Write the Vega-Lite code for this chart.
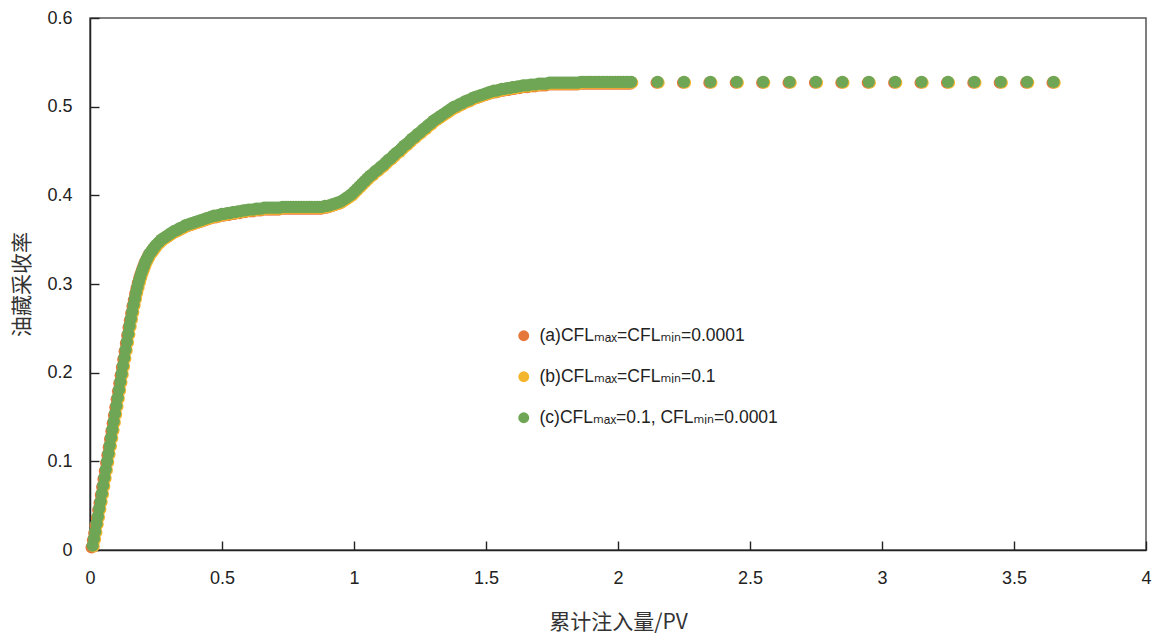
{
"$schema": "https://vega.github.io/schema/vega-lite/v6.json",
"width": 1056, "height": 532,
"autosize": {"type": "none"},
"padding": {"left": 90, "top": 18, "right": 7, "bottom": 83},
"config": {
 "font": "Liberation Sans, DejaVu Sans, Noto Sans CJK SC",
 "view": {"stroke": "#555", "strokeWidth": 1.5},
 "axis": {"grid": false, "tickColor": "#222", "tickWidth": 1.4, "domainColor": "#222", "domainWidth": 1.5, "labelFontSize": 18, "labelColor": "#222", "titleFontSize": 21, "titleColor": "#333", "titleFontWeight": "normal", "titleFont": "Noto Sans CJK SC", "labelFont": "Liberation Sans", "labelFlush": false},
 "legend": {"labelFontSize": 17.5, "labelColor": "#222", "labelFont": "Liberation Sans, DejaVu Sans", "labelLimit": 500, "symbolType": "circle", "symbolSize": 120, "symbolStrokeWidth": 0, "rowPadding": 22, "padding": 0, "labelOffset": 7}
},
"data": {"values": [
{"x":0.010,"a":0.003,"b":0.004,"c":0.005},
{"x":0.015,"a":0.011,"b":0.012,"c":0.013},
{"x":0.020,"a":0.019,"b":0.020,"c":0.021},
{"x":0.025,"a":0.028,"b":0.029,"c":0.030},
{"x":0.030,"a":0.036,"b":0.037,"c":0.038},
{"x":0.035,"a":0.045,"b":0.046,"c":0.047},
{"x":0.040,"a":0.053,"b":0.054,"c":0.055},
{"x":0.045,"a":0.062,"b":0.063,"c":0.064},
{"x":0.050,"a":0.071,"b":0.072,"c":0.073},
{"x":0.055,"a":0.080,"b":0.081,"c":0.082},
{"x":0.060,"a":0.089,"b":0.090,"c":0.091},
{"x":0.065,"a":0.098,"b":0.099,"c":0.100},
{"x":0.070,"a":0.107,"b":0.108,"c":0.109},
{"x":0.075,"a":0.116,"b":0.117,"c":0.118},
{"x":0.080,"a":0.125,"b":0.126,"c":0.127},
{"x":0.085,"a":0.134,"b":0.135,"c":0.136},
{"x":0.090,"a":0.143,"b":0.144,"c":0.145},
{"x":0.095,"a":0.152,"b":0.153,"c":0.154},
{"x":0.100,"a":0.161,"b":0.162,"c":0.163},
{"x":0.105,"a":0.170,"b":0.171,"c":0.172},
{"x":0.110,"a":0.179,"b":0.180,"c":0.181},
{"x":0.115,"a":0.188,"b":0.189,"c":0.190},
{"x":0.120,"a":0.197,"b":0.198,"c":0.199},
{"x":0.125,"a":0.206,"b":0.207,"c":0.208},
{"x":0.130,"a":0.215,"b":0.216,"c":0.217},
{"x":0.135,"a":0.224,"b":0.225,"c":0.226},
{"x":0.140,"a":0.233,"b":0.234,"c":0.235},
{"x":0.145,"a":0.242,"b":0.243,"c":0.244},
{"x":0.150,"a":0.251,"b":0.252,"c":0.253},
{"x":0.155,"a":0.259,"b":0.260,"c":0.261},
{"x":0.160,"a":0.267,"b":0.268,"c":0.269},
{"x":0.165,"a":0.275,"b":0.276,"c":0.277},
{"x":0.170,"a":0.282,"b":0.283,"c":0.284},
{"x":0.175,"a":0.289,"b":0.290,"c":0.291},
{"x":0.180,"a":0.295,"b":0.296,"c":0.297},
{"x":0.185,"a":0.301,"b":0.302,"c":0.303},
{"x":0.190,"a":0.306,"b":0.307,"c":0.308},
{"x":0.195,"a":0.311,"b":0.312,"c":0.313},
{"x":0.200,"a":0.315,"b":0.316,"c":0.317},
{"x":0.205,"a":0.319,"b":0.320,"c":0.321},
{"x":0.210,"a":0.323,"b":0.324,"c":0.325},
{"x":0.215,"a":0.326,"b":0.327,"c":0.328},
{"x":0.220,"a":0.329,"b":0.330,"c":0.331},
{"x":0.225,"a":0.332,"b":0.333,"c":0.334},
{"x":0.230,"a":0.334,"b":0.335,"c":0.336},
{"x":0.235,"a":0.336,"b":0.337,"c":0.338},
{"x":0.240,"a":0.338,"b":0.339,"c":0.340},
{"x":0.245,"a":0.340,"b":0.341,"c":0.342},
{"x":0.250,"a":0.342,"b":0.343,"c":0.344},
{"x":0.26,"a":0.345,"b":0.346,"c":0.347},
{"x":0.27,"a":0.348,"b":0.349,"c":0.350},
{"x":0.28,"a":0.350,"b":0.351,"c":0.352},
{"x":0.29,"a":0.352,"b":0.353,"c":0.354},
{"x":0.30,"a":0.354,"b":0.355,"c":0.356},
{"x":0.31,"a":0.356,"b":0.357,"c":0.358},
{"x":0.32,"a":0.358,"b":0.359,"c":0.360},
{"x":0.33,"a":0.359,"b":0.360,"c":0.361},
{"x":0.34,"a":0.361,"b":0.362,"c":0.363},
{"x":0.35,"a":0.362,"b":0.363,"c":0.364},
{"x":0.36,"a":0.364,"b":0.365,"c":0.366},
{"x":0.37,"a":0.365,"b":0.366,"c":0.367},
{"x":0.38,"a":0.366,"b":0.367,"c":0.368},
{"x":0.39,"a":0.367,"b":0.368,"c":0.369},
{"x":0.40,"a":0.368,"b":0.369,"c":0.370},
{"x":0.41,"a":0.369,"b":0.370,"c":0.371},
{"x":0.42,"a":0.370,"b":0.371,"c":0.372},
{"x":0.43,"a":0.371,"b":0.372,"c":0.373},
{"x":0.44,"a":0.372,"b":0.373,"c":0.374},
{"x":0.45,"a":0.373,"b":0.374,"c":0.375},
{"x":0.46,"a":0.374,"b":0.375,"c":0.376},
{"x":0.47,"a":0.375,"b":0.376,"c":0.377},
{"x":0.48,"a":0.375,"b":0.376,"c":0.377},
{"x":0.49,"a":0.376,"b":0.377,"c":0.378},
{"x":0.50,"a":0.377,"b":0.378,"c":0.379},
{"x":0.51,"a":0.377,"b":0.378,"c":0.379},
{"x":0.52,"a":0.378,"b":0.379,"c":0.380},
{"x":0.53,"a":0.378,"b":0.379,"c":0.380},
{"x":0.54,"a":0.379,"b":0.380,"c":0.381},
{"x":0.55,"a":0.379,"b":0.380,"c":0.381},
{"x":0.56,"a":0.380,"b":0.381,"c":0.382},
{"x":0.57,"a":0.380,"b":0.381,"c":0.382},
{"x":0.58,"a":0.381,"b":0.382,"c":0.383},
{"x":0.59,"a":0.381,"b":0.382,"c":0.383},
{"x":0.60,"a":0.382,"b":0.383,"c":0.384},
{"x":0.61,"a":0.382,"b":0.383,"c":0.384},
{"x":0.62,"a":0.382,"b":0.383,"c":0.384},
{"x":0.63,"a":0.383,"b":0.384,"c":0.385},
{"x":0.64,"a":0.383,"b":0.384,"c":0.385},
{"x":0.65,"a":0.383,"b":0.384,"c":0.385},
{"x":0.66,"a":0.384,"b":0.385,"c":0.386},
{"x":0.67,"a":0.384,"b":0.385,"c":0.386},
{"x":0.68,"a":0.384,"b":0.385,"c":0.386},
{"x":0.69,"a":0.384,"b":0.385,"c":0.386},
{"x":0.70,"a":0.384,"b":0.385,"c":0.386},
{"x":0.71,"a":0.384,"b":0.385,"c":0.386},
{"x":0.72,"a":0.384,"b":0.385,"c":0.386},
{"x":0.73,"a":0.385,"b":0.386,"c":0.387},
{"x":0.74,"a":0.385,"b":0.386,"c":0.387},
{"x":0.75,"a":0.385,"b":0.386,"c":0.387},
{"x":0.76,"a":0.385,"b":0.386,"c":0.387},
{"x":0.77,"a":0.385,"b":0.386,"c":0.387},
{"x":0.78,"a":0.385,"b":0.386,"c":0.387},
{"x":0.79,"a":0.385,"b":0.386,"c":0.387},
{"x":0.80,"a":0.385,"b":0.386,"c":0.387},
{"x":0.81,"a":0.385,"b":0.386,"c":0.387},
{"x":0.82,"a":0.385,"b":0.386,"c":0.387},
{"x":0.83,"a":0.385,"b":0.386,"c":0.387},
{"x":0.84,"a":0.385,"b":0.386,"c":0.387},
{"x":0.85,"a":0.385,"b":0.386,"c":0.387},
{"x":0.86,"a":0.385,"b":0.386,"c":0.387},
{"x":0.87,"a":0.385,"b":0.386,"c":0.387},
{"x":0.88,"a":0.385,"b":0.386,"c":0.387},
{"x":0.89,"a":0.386,"b":0.387,"c":0.388},
{"x":0.90,"a":0.386,"b":0.387,"c":0.388},
{"x":0.91,"a":0.387,"b":0.388,"c":0.389},
{"x":0.92,"a":0.388,"b":0.389,"c":0.390},
{"x":0.93,"a":0.389,"b":0.390,"c":0.391},
{"x":0.94,"a":0.390,"b":0.391,"c":0.392},
{"x":0.95,"a":0.391,"b":0.392,"c":0.393},
{"x":0.96,"a":0.393,"b":0.394,"c":0.395},
{"x":0.97,"a":0.395,"b":0.396,"c":0.397},
{"x":0.98,"a":0.397,"b":0.398,"c":0.399},
{"x":0.99,"a":0.399,"b":0.400,"c":0.401},
{"x":1.00,"a":0.402,"b":0.403,"c":0.404},
{"x":1.01,"a":0.405,"b":0.406,"c":0.407},
{"x":1.02,"a":0.408,"b":0.409,"c":0.410},
{"x":1.03,"a":0.411,"b":0.412,"c":0.413},
{"x":1.04,"a":0.414,"b":0.415,"c":0.416},
{"x":1.05,"a":0.417,"b":0.418,"c":0.419},
{"x":1.06,"a":0.420,"b":0.421,"c":0.422},
{"x":1.07,"a":0.422,"b":0.423,"c":0.424},
{"x":1.08,"a":0.425,"b":0.426,"c":0.427},
{"x":1.09,"a":0.427,"b":0.428,"c":0.429},
{"x":1.10,"a":0.430,"b":0.431,"c":0.432},
{"x":1.11,"a":0.432,"b":0.433,"c":0.434},
{"x":1.12,"a":0.435,"b":0.436,"c":0.437},
{"x":1.13,"a":0.438,"b":0.439,"c":0.440},
{"x":1.14,"a":0.440,"b":0.441,"c":0.442},
{"x":1.15,"a":0.443,"b":0.444,"c":0.445},
{"x":1.16,"a":0.446,"b":0.447,"c":0.448},
{"x":1.17,"a":0.448,"b":0.449,"c":0.450},
{"x":1.18,"a":0.451,"b":0.452,"c":0.453},
{"x":1.19,"a":0.454,"b":0.455,"c":0.456},
{"x":1.20,"a":0.456,"b":0.457,"c":0.458},
{"x":1.21,"a":0.459,"b":0.460,"c":0.461},
{"x":1.22,"a":0.462,"b":0.463,"c":0.464},
{"x":1.23,"a":0.464,"b":0.465,"c":0.466},
{"x":1.24,"a":0.467,"b":0.468,"c":0.469},
{"x":1.25,"a":0.469,"b":0.470,"c":0.471},
{"x":1.26,"a":0.472,"b":0.473,"c":0.474},
{"x":1.27,"a":0.474,"b":0.475,"c":0.476},
{"x":1.28,"a":0.477,"b":0.478,"c":0.479},
{"x":1.29,"a":0.479,"b":0.480,"c":0.481},
{"x":1.30,"a":0.482,"b":0.483,"c":0.484},
{"x":1.31,"a":0.484,"b":0.485,"c":0.486},
{"x":1.32,"a":0.486,"b":0.487,"c":0.488},
{"x":1.33,"a":0.488,"b":0.489,"c":0.490},
{"x":1.34,"a":0.490,"b":0.491,"c":0.492},
{"x":1.35,"a":0.492,"b":0.493,"c":0.494},
{"x":1.36,"a":0.494,"b":0.495,"c":0.496},
{"x":1.37,"a":0.496,"b":0.497,"c":0.498},
{"x":1.38,"a":0.498,"b":0.499,"c":0.500},
{"x":1.39,"a":0.499,"b":0.500,"c":0.501},
{"x":1.40,"a":0.501,"b":0.502,"c":0.503},
{"x":1.41,"a":0.502,"b":0.503,"c":0.504},
{"x":1.42,"a":0.504,"b":0.505,"c":0.506},
{"x":1.43,"a":0.505,"b":0.506,"c":0.507},
{"x":1.44,"a":0.506,"b":0.507,"c":0.508},
{"x":1.45,"a":0.508,"b":0.509,"c":0.510},
{"x":1.46,"a":0.509,"b":0.510,"c":0.511},
{"x":1.47,"a":0.510,"b":0.511,"c":0.512},
{"x":1.48,"a":0.511,"b":0.512,"c":0.513},
{"x":1.49,"a":0.512,"b":0.513,"c":0.514},
{"x":1.50,"a":0.513,"b":0.514,"c":0.515},
{"x":1.51,"a":0.514,"b":0.515,"c":0.516},
{"x":1.52,"a":0.515,"b":0.516,"c":0.517},
{"x":1.53,"a":0.516,"b":0.517,"c":0.518},
{"x":1.54,"a":0.516,"b":0.517,"c":0.518},
{"x":1.55,"a":0.517,"b":0.518,"c":0.519},
{"x":1.56,"a":0.518,"b":0.519,"c":0.520},
{"x":1.57,"a":0.518,"b":0.519,"c":0.520},
{"x":1.58,"a":0.519,"b":0.520,"c":0.521},
{"x":1.59,"a":0.519,"b":0.520,"c":0.521},
{"x":1.60,"a":0.520,"b":0.521,"c":0.522},
{"x":1.61,"a":0.520,"b":0.521,"c":0.522},
{"x":1.62,"a":0.521,"b":0.522,"c":0.523},
{"x":1.63,"a":0.521,"b":0.522,"c":0.523},
{"x":1.64,"a":0.522,"b":0.523,"c":0.524},
{"x":1.65,"a":0.522,"b":0.523,"c":0.524},
{"x":1.66,"a":0.522,"b":0.523,"c":0.524},
{"x":1.67,"a":0.523,"b":0.524,"c":0.525},
{"x":1.68,"a":0.523,"b":0.524,"c":0.525},
{"x":1.69,"a":0.523,"b":0.524,"c":0.525},
{"x":1.70,"a":0.524,"b":0.525,"c":0.526},
{"x":1.71,"a":0.524,"b":0.525,"c":0.526},
{"x":1.72,"a":0.524,"b":0.525,"c":0.526},
{"x":1.73,"a":0.524,"b":0.525,"c":0.526},
{"x":1.74,"a":0.525,"b":0.526,"c":0.527},
{"x":1.75,"a":0.525,"b":0.526,"c":0.527},
{"x":1.76,"a":0.525,"b":0.526,"c":0.527},
{"x":1.77,"a":0.525,"b":0.526,"c":0.527},
{"x":1.78,"a":0.525,"b":0.526,"c":0.527},
{"x":1.79,"a":0.525,"b":0.526,"c":0.527},
{"x":1.80,"a":0.525,"b":0.526,"c":0.527},
{"x":1.81,"a":0.525,"b":0.526,"c":0.527},
{"x":1.82,"a":0.525,"b":0.526,"c":0.527},
{"x":1.83,"a":0.525,"b":0.526,"c":0.527},
{"x":1.84,"a":0.525,"b":0.526,"c":0.527},
{"x":1.85,"a":0.525,"b":0.526,"c":0.527},
{"x":1.86,"a":0.526,"b":0.527,"c":0.528},
{"x":1.87,"a":0.526,"b":0.527,"c":0.528},
{"x":1.88,"a":0.526,"b":0.527,"c":0.528},
{"x":1.89,"a":0.526,"b":0.527,"c":0.528},
{"x":1.90,"a":0.526,"b":0.527,"c":0.528},
{"x":1.91,"a":0.526,"b":0.527,"c":0.528},
{"x":1.92,"a":0.526,"b":0.527,"c":0.528},
{"x":1.93,"a":0.526,"b":0.527,"c":0.528},
{"x":1.94,"a":0.526,"b":0.527,"c":0.528},
{"x":1.95,"a":0.526,"b":0.527,"c":0.528},
{"x":1.96,"a":0.526,"b":0.527,"c":0.528},
{"x":1.97,"a":0.526,"b":0.527,"c":0.528},
{"x":1.98,"a":0.526,"b":0.527,"c":0.528},
{"x":1.99,"a":0.526,"b":0.527,"c":0.528},
{"x":2.00,"a":0.526,"b":0.527,"c":0.528},
{"x":2.01,"a":0.526,"b":0.527,"c":0.528},
{"x":2.02,"a":0.526,"b":0.527,"c":0.528},
{"x":2.03,"a":0.526,"b":0.527,"c":0.528},
{"x":2.04,"a":0.526,"b":0.527,"c":0.528},
{"x":2.05,"a":0.526,"b":0.527,"c":0.528},
{"x":2.15,"a":0.527,"b":0.527,"c":0.528},
{"x":2.25,"a":0.527,"b":0.527,"c":0.528},
{"x":2.35,"a":0.527,"b":0.527,"c":0.528},
{"x":2.45,"a":0.527,"b":0.527,"c":0.528},
{"x":2.55,"a":0.527,"b":0.527,"c":0.528},
{"x":2.65,"a":0.527,"b":0.527,"c":0.528},
{"x":2.75,"a":0.527,"b":0.527,"c":0.528},
{"x":2.85,"a":0.527,"b":0.527,"c":0.528},
{"x":2.95,"a":0.527,"b":0.527,"c":0.528},
{"x":3.05,"a":0.527,"b":0.527,"c":0.528},
{"x":3.15,"a":0.527,"b":0.527,"c":0.528},
{"x":3.25,"a":0.527,"b":0.527,"c":0.528},
{"x":3.35,"a":0.527,"b":0.527,"c":0.528},
{"x":3.45,"a":0.527,"b":0.527,"c":0.528},
{"x":3.55,"a":0.527,"b":0.527,"c":0.528},
{"x":3.65,"a":0.527,"b":0.527,"c":0.528}
]},
"encoding": {
 "x": {"field": "x", "type": "quantitative", "scale": {"domain": [0, 4], "nice": false, "zero": true},
  "axis": {"values": [0, 0.5, 1, 1.5, 2, 2.5, 3, 3.5, 4], "format": "~g", "ticks": true, "tickSize": -9, "labelPadding": 28, "title": "累计注入量/PV", "titlePadding": 24}}
},
"layer": [
 {"mark": {"type": "point", "filled": true, "size": 150, "opacity": 1, "xOffset": -1},
  "encoding": {
   "y": {"field": "a", "type": "quantitative", "scale": {"domain": [0, 0.6], "nice": false}, "axis": {"values": [0, 0.1, 0.2, 0.3, 0.4, 0.5, 0.6], "format": "~g", "ticks": true, "tickSize": -9, "labelPadding": 27, "title": "油藏采收率", "titlePadding": 14}},
   "color": {"datum": "(a)CFLₘₐₓ=CFLₘᵢₙ=0.0001", "type": "nominal",
    "scale": {"domain": ["(a)CFLₘₐₓ=CFLₘᵢₙ=0.0001", "(b)CFLₘₐₓ=CFLₘᵢₙ=0.1", "(c)CFLₘₐₓ=0.1, CFLₘᵢₙ=0.0001"], "range": ["#E5773A", "#F5B62F", "#6FA655"]},
    "legend": {"title": null, "orient": "none", "legendX": 425, "legendY": 309}}
  }},
 {"mark": {"type": "point", "filled": true, "size": 150, "opacity": 1, "xOffset": 1},
  "encoding": {
   "y": {"field": "b", "type": "quantitative", "scale": {"domain": [0, 0.6], "nice": false}, "axis": {"values": [0, 0.1, 0.2, 0.3, 0.4, 0.5, 0.6], "format": "~g", "ticks": true, "tickSize": -9, "labelPadding": 27, "title": "油藏采收率", "titlePadding": 14}},
   "color": {"datum": "(b)CFLₘₐₓ=CFLₘᵢₙ=0.1", "type": "nominal"}
  }},
 {"mark": {"type": "point", "filled": true, "size": 150, "opacity": 1},
  "encoding": {
   "y": {"field": "c", "type": "quantitative", "scale": {"domain": [0, 0.6], "nice": false}, "axis": {"values": [0, 0.1, 0.2, 0.3, 0.4, 0.5, 0.6], "format": "~g", "ticks": true, "tickSize": -9, "labelPadding": 27, "title": "油藏采收率", "titlePadding": 14}},
   "color": {"datum": "(c)CFLₘₐₓ=0.1, CFLₘᵢₙ=0.0001", "type": "nominal"}
  }}
]
}
